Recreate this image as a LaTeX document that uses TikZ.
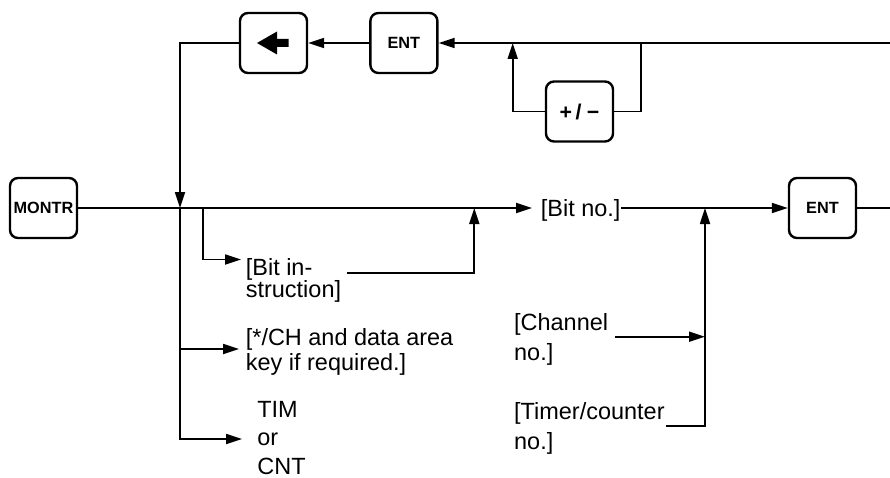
\documentclass[tikz,border=0pt]{standalone}
\usepackage{fontspec}
\setmainfont{Liberation Sans}
\usetikzlibrary{arrows.meta, positioning}

\begin{document}
\begin{tikzpicture}[
    x=0.75pt, y=-0.75pt,
    line width=1.3pt,
    key/.style={draw, line width=1.8pt, rounded corners=6pt, minimum width=50.25pt,
                minimum height=45pt, inner sep=0pt,
                font=\fontsize{12.2}{14}\selectfont\bfseries},
    txt/.style={anchor=north west, inner sep=0pt, align=left,
                font=\fontsize{17.6}{#1}\selectfont},
    txt/.default=22.5pt,
    arr/.style={-{Triangle[length=12pt, width=7.5pt]}}
]
    \useasboundingbox (0,0) rectangle (890,478);

    % keys
    \node[key] (montr) at (43.5,208) {MONTR};
    \node[key] (back) at (273.5,43) {};
    \node[key, right=45.75pt of back] (enta) {ENT};
    \node[key, font=\fontsize{16}{18}\selectfont\bfseries] (pm) at (579.5,111.5)
        {+\hspace{2.5pt}/\hspace{4pt}−};
    \node[key] (entb) at (822.5,208) {ENT};
    \fill[shift={(back.center)}] (-16.5,0) -- (3.5,-11.5) -- (3.5,-4) -- (15,-4)
        -- (15,4) -- (3.5,4) -- (3.5,11.5) -- cycle;

    % texts
    \node[txt] (bitno) at (540,199) {[Bit no.]};
    \node[txt=16.7pt] (bitin) at (245,257.7) {[Bit in-\\struction]};
    \node[txt=18.75pt] (star) at (245,327.7) {[*/CH and data area\\key if required.]};
    \node[txt=21.3pt] (tim) at (256.5,400.5) {TIM\\or\\CNT};
    \node[txt] (chan) at (513.3,312.7) {[Channel\\no.]};
    \node[txt] (timer) at (513.3,401.7) {[Timer/counter\\no.]};

    \coordinate (rin) at (890,43);
    \coordinate (rout) at (890,208);
    \coordinate (ja) at (180,208);
    \coordinate (jb) at (202.7,208);
    \coordinate (jc) at (474.3,208);
    \coordinate (jd) at (705,208);
    \coordinate (je) at (512.7,43);
    \coordinate (jf) at (641,43);
    \coordinate (bitin-in) at (241,259.5);
    \coordinate (bitin-out) at (347,272.7);
    \coordinate (star-in) at (239,349);
    \coordinate (tim-in) at (242,439);
    \coordinate (chan-out) at (615,336.7);
    \coordinate (timer-out) at (666,426);

    % main line
    \draw[arr, shorten >=6pt] (montr.east) -- (montr.east -| bitno.west);
    \draw[arr] (bitno.east |- entb.west) -- (entb.west);
    \draw (entb.east) -- (rout);

    % upper loop
    \draw[arr] (rin) -- (enta.east);
    \draw[arr] (enta.west) -- (back.east);
    \draw[arr] (back.west) -| (ja);
    \draw[arr] (pm.west) -| (je);
    \draw (pm.east) -| (jf);

    % branches
    \draw[arr] (ja) |- (star-in);
    \draw[arr] (ja) |- (tim-in);
    \draw[arr] (jb) |- (bitin-in);
    \draw[arr] (bitin-out) -| (jc);
    \draw[arr] (chan-out) -- (chan-out -| jd);
    \draw[arr] (timer-out) -| (jd);
\end{tikzpicture}
\end{document}
